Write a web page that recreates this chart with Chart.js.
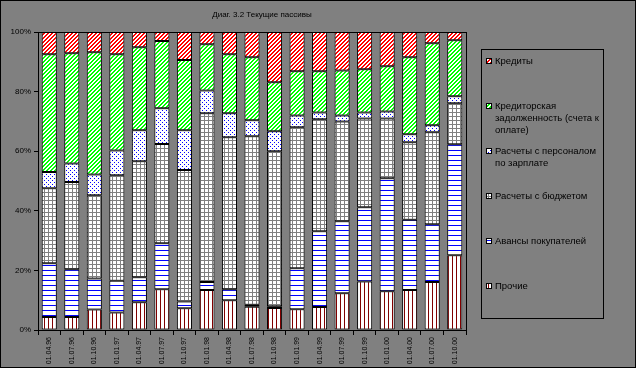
<!DOCTYPE html>
<html>
<head>
<meta charset="utf-8">
<script src="https://cdn.jsdelivr.net/npm/chart.js@4"></script>
<style>
  html, body { margin: 0; padding: 0; background: #808080; }
  canvas { display: block; }
</style>
</head>
<body>
<canvas id="chart" width="636" height="368"></canvas>
<script>
const labels = ['01.04.96', '01.07.96', '01.10.96', '01.01.97', '01.04.97', '01.07.97', '01.10.97',
    '01.01.98', '01.04.98', '01.07.98', '01.10.98', '01.01.99', '01.04.99', '01.07.99', '01.10.99',
    '01.01.00', '01.04.00', '01.07.00', '01.10.00'];

// shares, %
const other = [4.4, 4.4, 6.9, 5.9, 9.3, 13.7, 7.3, 13.4, 10.0, 7.8, 7.4, 7.0, 7.7, 12.3, 16.3, 13.0, 13.4, 16.1, 25.1];
const advances = [18.0, 16.0, 10.4, 10.6, 8.4, 15.4, 2.3, 2.7, 3.7, 0.7, 0.6, 13.7, 25.4, 24.2, 24.9, 37.9, 23.6, 19.4, 37.2];
const budget = [25.2, 29.3, 27.9, 35.4, 38.9, 33.3, 44.1, 56.6, 51.0, 56.5, 52.0, 47.3, 37.6, 33.5, 29.8, 20.1, 26.0, 30.9, 13.8];
const payroll = [5.5, 6.2, 7.0, 8.3, 10.4, 12.0, 13.3, 7.7, 8.0, 5.4, 6.7, 4.0, 2.3, 2.0, 2.0, 2.3, 2.7, 2.3, 2.3];
const payables = [39.5, 37.0, 41.0, 32.3, 27.9, 22.6, 23.6, 15.5, 19.8, 21.1, 16.4, 14.8, 13.8, 15.1, 14.5, 15.2, 25.8, 27.5, 18.8];
const credits = [7.5, 7.1, 6.8, 7.5, 5.1, 3.0, 9.4, 4.1, 7.5, 8.5, 16.9, 13.2, 13.2, 12.9, 12.5, 11.5, 8.5, 3.8, 2.8];

// legend text, top to bottom, wrapped like the original
const legendLines = [
    ['Кредиты'],
    ['Кредиторская', 'задолженность (счета к', 'оплате)'],
    ['Расчеты с персоналом', 'по зарплате'],
    ['Расчеты с бюджетом'],
    ['Авансы покупателей'],
    ['Прочие']
];

Chart.defaults.font.family = '"Liberation Sans", Arial, sans-serif';
Chart.defaults.color = '#000';

// small tiles for the hatch fills
const makePattern = (w, h, color, test) => {
    const c = document.createElement('canvas');
    c.width = w; c.height = h;
    const g = c.getContext('2d');
    g.fillStyle = '#fff';
    g.fillRect(0, 0, w, h);
    g.fillStyle = color;
    for (let y = 0; y < h; y++) {
        for (let x = 0; x < w; x++) {
            if (test(x, y)) g.fillRect(x, y, 1, 1);
        }
    }
    return g.createPattern(c, 'repeat');
};

const patterns = {
    credits: makePattern(4, 4, '#ff0000', (x, y) => (x + y) % 4 < 2),
    payables: makePattern(4, 4, '#00ff00', (x, y) => (x + y) % 4 < 2),
    payroll: makePattern(4, 4, '#0000ff', (x, y) => (x === 0 && y === 0) || (x === 2 && y === 2)),
    budget: makePattern(4, 4, '#808080', (x, y) => x === 0 || y === 0),
    advances: makePattern(4, 5, '#0000ff', (x, y) => y === 0),
    other: makePattern(4, 4, '#800000', (x, y) => x === 0)
};

// turn every column into 100%
const series = [other, advances, budget, payroll, payables, credits];
const totals = labels.map((_, i) => series.reduce((s, arr) => s + arr[i], 0));
const pct = arr => arr.map((v, i) => v / totals[i] * 100);

const datasets = [
    { label: 'Прочие', data: pct(other), backgroundColor: patterns.other },
    { label: 'Авансы покупателей', data: pct(advances), backgroundColor: patterns.advances },
    { label: 'Расчеты с бюджетом', data: pct(budget), backgroundColor: patterns.budget },
    { label: 'Расчеты с персоналом по зарплате', data: pct(payroll), backgroundColor: patterns.payroll },
    { label: 'Кредиторская задолженность (счета к оплате)', data: pct(payables), backgroundColor: patterns.payables },
    { label: 'Кредиты', data: pct(credits), backgroundColor: patterns.credits }
].map(d => Object.assign(d, {
    borderColor: '#000',
    borderWidth: 1,
    borderSkipped: false,
    categoryPercentage: 1,
    barPercentage: 0.67
}));

const decorPlugin = {
    id: 'decor',
    afterDraw(chart) {
        const ctx = chart.ctx;
        const a = chart.chartArea;
        ctx.save();
        // plot frame
        ctx.strokeStyle = '#000';
        ctx.lineWidth = 1;
        ctx.strokeRect(Math.round(a.left) + 0.5, Math.round(a.top) + 0.5,
            Math.round(a.right - a.left), Math.round(a.bottom - a.top));
        // outer frame
        ctx.strokeRect(0.5, 0.5, chart.width - 1, chart.height - 1);

        // title
        ctx.fillStyle = '#000';
        ctx.font = '8px "Liberation Sans", Arial, sans-serif';
        ctx.textAlign = 'center';
        ctx.textBaseline = 'middle';
        ctx.fillText('Диаг. 3.2 Текущие пассивы', 262, 15);

        // legend box
        ctx.strokeRect(481.5, 49.5, 122, 269);
        ctx.font = '9.5px "Liberation Sans", Arial, sans-serif';
        ctx.textAlign = 'left';
        const order = chart.data.datasets.slice().reverse();
        legendLines.forEach((lines, i) => {
            const y = 61 + i * 45;
            ctx.fillStyle = order[i].backgroundColor;
            ctx.fillRect(486, y - 3, 6, 6);
            ctx.strokeRect(486.5, y - 2.5, 5, 5);
            ctx.fillStyle = '#000';
            lines.forEach((t, k) => ctx.fillText(t, 495, y + k * 12));
        });
        ctx.restore();
    }
};

new Chart(document.getElementById('chart'), {
    type: 'bar',
    data: { labels: labels, datasets: datasets },
    options: {
        responsive: false,
        animation: false,
        events: [],
        layout: { padding: { top: 32, right: 170, left: 0, bottom: 0 } },
        plugins: { legend: { display: false }, title: { display: false }, tooltip: { enabled: false } },
        scales: {
            x: {
                stacked: true,
                offset: true,
                border: { color: '#000', width: 1 },
                grid: { offset: true, drawOnChartArea: false, color: '#000', tickLength: 5 },
                ticks: {
                    minRotation: 90, maxRotation: 90, autoSkip: false, padding: 2,
                    font: { size: 7 }, color: '#000'
                },
                afterFit(scale) { scale.height = 38; }
            },
            y: {
                stacked: true,
                min: 0, max: 100,
                border: { color: '#000', width: 1 },
                grid: { drawOnChartArea: false, color: '#000', tickLength: 4 },
                ticks: {
                    stepSize: 20, padding: 3, font: { size: 8 }, color: '#000',
                    callback: v => v + '%'
                },
                afterFit(scale) { scale.width = 38; }
            }
        }
    },
    plugins: [decorPlugin]
});
</script>
</body>
</html>
